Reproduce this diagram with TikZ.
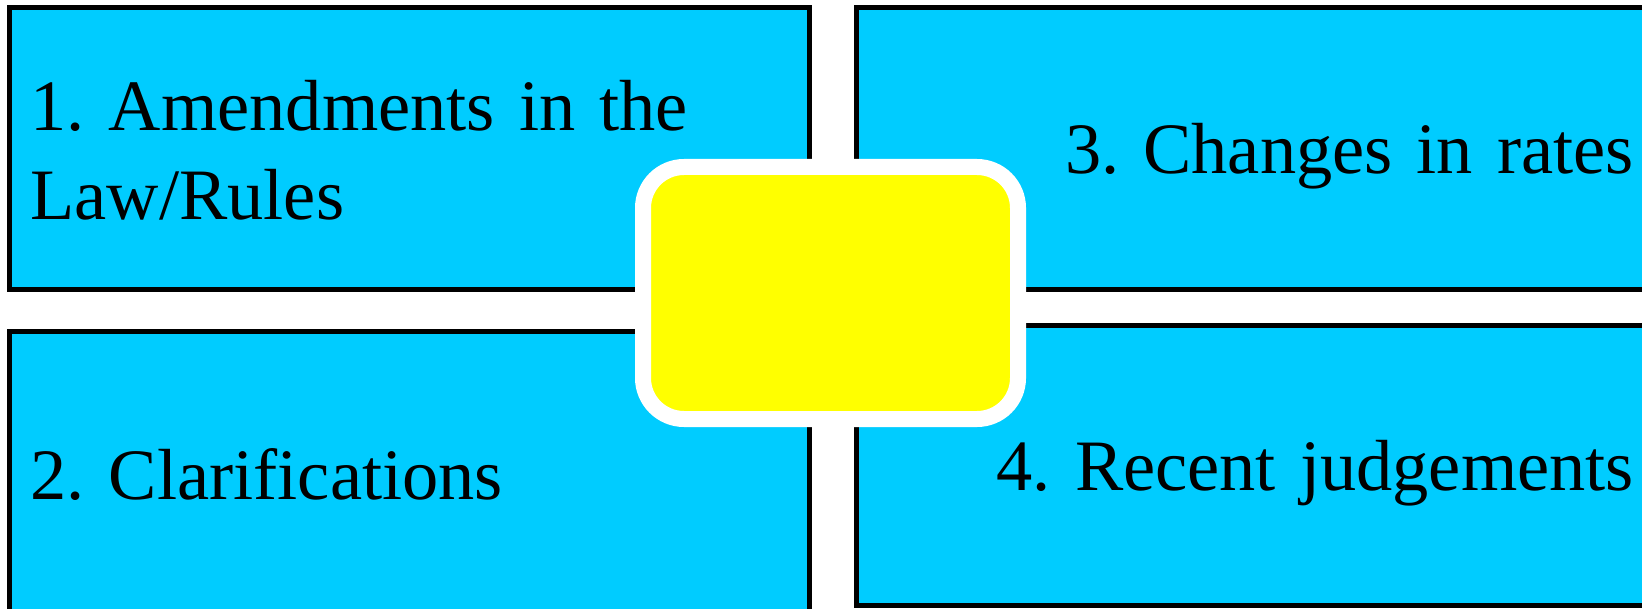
\documentclass[tikz,border=0pt]{standalone}
\usepackage{fontspec}
\setmainfont{Liberation Serif}
\definecolor{boxcyan}{RGB}{0,204,255}
\definecolor{hubyellow}{RGB}{255,255,0}
\newcommand{\boxstrut}{\rule[-0.19em]{0pt}{1.11em}}

\begin{document}
\begin{tikzpicture}[x=0.5pt,y=-0.5pt,
  infobox/.style={rectangle,draw=black,fill=boxcyan,line width=2.5pt,outer sep=0pt,anchor=north west,inner ysep=0pt,minimum height=140.75pt,font=\fontsize{36.2}{44.5}\selectfont\frenchspacing,execute at begin node={\boxstrut},execute at end node={\boxstrut}},
  leftbox/.style={infobox,inner xsep=10.5pt,text width=379pt,align=left},
  rightbox/.style={infobox,inner xsep=9pt,text width=380pt,align=right},
  hubbox/.style={rectangle,rounded corners=20.5pt,draw=white,fill=hubyellow,line width=8pt,outer sep=0pt,minimum width=187.5pt,minimum height=126pt}]
\clip (0,0) rectangle (1642,609);
\node[leftbox] (amend) at (9.5,7.5) {1. Amendments in the\\Law/Rules};
\node[leftbox,minimum height=141.5pt] (clarif) at (9.5,331.5) {2. Clarifications};
\node[rightbox] (rates) at (856,7.5) {3. Changes in rates};
\node[rightbox,minimum height=140pt] (judge) at (856,325.5) {4. Recent judgements};
\node[hubbox] (hub) at (830.5,293) {};
\end{tikzpicture}
\end{document}
